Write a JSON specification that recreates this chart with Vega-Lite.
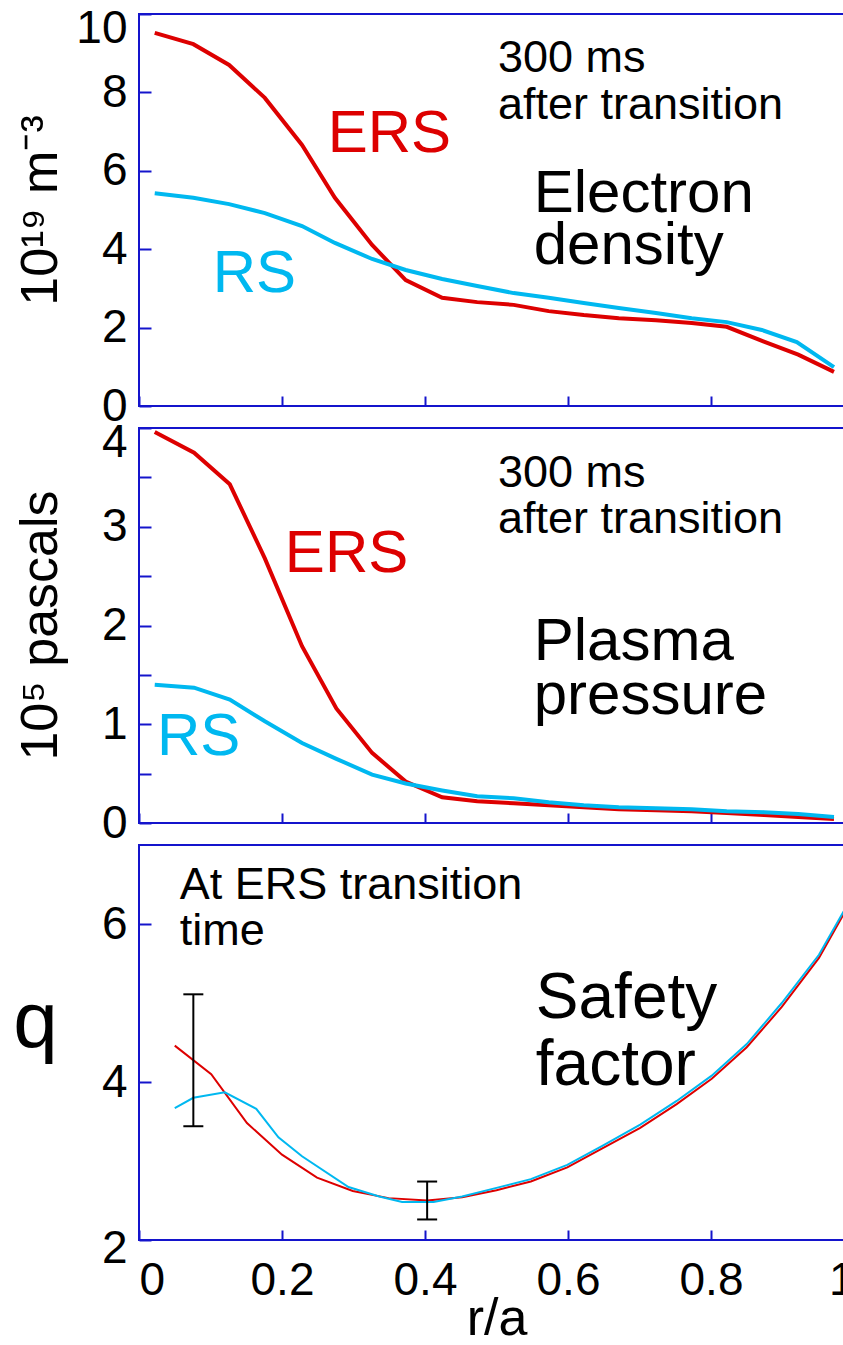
{
  "$schema": "https://vega.github.io/schema/vega-lite/v6.json",
  "background": "white",
  "padding": {"left": 11, "top": 4, "right": 0, "bottom": 0},
  "spacing": 22,
  "bounds": "flush",
  "config": {
    "font": "Liberation Sans",
    "view": {"stroke": "#1414cc", "strokeWidth": 2},
    "axis": {
      "domain": false, "grid": false, "tickColor": "#1414cc", "tickWidth": 2,
      "labelFont": "Liberation Sans", "labelColor": "black", "labelFontSize": 46,
      "titleFont": "Liberation Sans", "titleColor": "black", "titleFontWeight": "normal"
    }
  },
  "datasets": {
    "density": [
      {"r":0.022,"v":9.52,"s":"ERS"},{"r":0.076,"v":9.23,"s":"ERS"},{"r":0.126,"v":8.70,"s":"ERS"},{"r":0.176,"v":7.86,"s":"ERS"},{"r":0.228,"v":6.66,"s":"ERS"},{"r":0.274,"v":5.31,"s":"ERS"},{"r":0.326,"v":4.11,"s":"ERS"},{"r":0.373,"v":3.21,"s":"ERS"},{"r":0.424,"v":2.76,"s":"ERS"},{"r":0.473,"v":2.65,"s":"ERS"},{"r":0.524,"v":2.58,"s":"ERS"},{"r":0.573,"v":2.42,"s":"ERS"},{"r":0.622,"v":2.32,"s":"ERS"},{"r":0.671,"v":2.24,"s":"ERS"},{"r":0.723,"v":2.19,"s":"ERS"},{"r":0.773,"v":2.12,"s":"ERS"},{"r":0.822,"v":2.02,"s":"ERS"},{"r":0.874,"v":1.64,"s":"ERS"},{"r":0.922,"v":1.31,"s":"ERS"},{"r":0.972,"v":0.87,"s":"ERS"},
      {"r":0.022,"v":5.43,"s":"RS"},{"r":0.076,"v":5.31,"s":"RS"},{"r":0.126,"v":5.15,"s":"RS"},{"r":0.176,"v":4.92,"s":"RS"},{"r":0.228,"v":4.59,"s":"RS"},{"r":0.274,"v":4.16,"s":"RS"},{"r":0.326,"v":3.75,"s":"RS"},{"r":0.373,"v":3.47,"s":"RS"},{"r":0.424,"v":3.24,"s":"RS"},{"r":0.473,"v":3.06,"s":"RS"},{"r":0.524,"v":2.88,"s":"RS"},{"r":0.573,"v":2.76,"s":"RS"},{"r":0.622,"v":2.63,"s":"RS"},{"r":0.671,"v":2.50,"s":"RS"},{"r":0.723,"v":2.37,"s":"RS"},{"r":0.773,"v":2.24,"s":"RS"},{"r":0.822,"v":2.14,"s":"RS"},{"r":0.871,"v":1.94,"s":"RS"},{"r":0.920,"v":1.63,"s":"RS"},{"r":0.972,"v":0.99,"s":"RS"}
    ],
    "pressure": [
      {"r":0.022,"v":3.96,"s":"ERS"},{"r":0.077,"v":3.75,"s":"ERS"},{"r":0.127,"v":3.43,"s":"ERS"},{"r":0.176,"v":2.68,"s":"ERS"},{"r":0.228,"v":1.79,"s":"ERS"},{"r":0.276,"v":1.16,"s":"ERS"},{"r":0.326,"v":0.71,"s":"ERS"},{"r":0.373,"v":0.42,"s":"ERS"},{"r":0.424,"v":0.26,"s":"ERS"},{"r":0.473,"v":0.22,"s":"ERS"},{"r":0.524,"v":0.20,"s":"ERS"},{"r":0.573,"v":0.18,"s":"ERS"},{"r":0.622,"v":0.16,"s":"ERS"},{"r":0.671,"v":0.14,"s":"ERS"},{"r":0.723,"v":0.13,"s":"ERS"},{"r":0.773,"v":0.12,"s":"ERS"},{"r":0.822,"v":0.10,"s":"ERS"},{"r":0.874,"v":0.08,"s":"ERS"},{"r":0.922,"v":0.06,"s":"ERS"},{"r":0.972,"v":0.04,"s":"ERS"},
      {"r":0.022,"v":1.40,"s":"RS"},{"r":0.077,"v":1.37,"s":"RS"},{"r":0.127,"v":1.25,"s":"RS"},{"r":0.176,"v":1.03,"s":"RS"},{"r":0.228,"v":0.81,"s":"RS"},{"r":0.276,"v":0.65,"s":"RS"},{"r":0.326,"v":0.49,"s":"RS"},{"r":0.373,"v":0.40,"s":"RS"},{"r":0.424,"v":0.33,"s":"RS"},{"r":0.473,"v":0.27,"s":"RS"},{"r":0.524,"v":0.25,"s":"RS"},{"r":0.573,"v":0.21,"s":"RS"},{"r":0.622,"v":0.18,"s":"RS"},{"r":0.671,"v":0.16,"s":"RS"},{"r":0.723,"v":0.15,"s":"RS"},{"r":0.773,"v":0.14,"s":"RS"},{"r":0.822,"v":0.12,"s":"RS"},{"r":0.874,"v":0.11,"s":"RS"},{"r":0.922,"v":0.09,"s":"RS"},{"r":0.972,"v":0.06,"s":"RS"}
    ],
    "safety": [
      {"r":0.050,"v":4.46,"s":"ERS"},{"r":0.101,"v":4.10,"s":"ERS"},{"r":0.151,"v":3.48,"s":"ERS"},{"r":0.200,"v":3.08,"s":"ERS"},{"r":0.249,"v":2.79,"s":"ERS"},{"r":0.299,"v":2.62,"s":"ERS"},{"r":0.349,"v":2.53,"s":"ERS"},{"r":0.403,"v":2.50,"s":"ERS"},{"r":0.452,"v":2.54,"s":"ERS"},{"r":0.500,"v":2.63,"s":"ERS"},{"r":0.548,"v":2.74,"s":"ERS"},{"r":0.599,"v":2.92,"s":"ERS"},{"r":0.648,"v":3.16,"s":"ERS"},{"r":0.701,"v":3.42,"s":"ERS"},{"r":0.752,"v":3.72,"s":"ERS"},{"r":0.801,"v":4.04,"s":"ERS"},{"r":0.850,"v":4.44,"s":"ERS"},{"r":0.899,"v":4.95,"s":"ERS"},{"r":0.951,"v":5.57,"s":"ERS"},{"r":1.000,"v":6.36,"s":"ERS"},
      {"r":0.050,"v":3.67,"s":"RS"},{"r":0.076,"v":3.80,"s":"RS"},{"r":0.120,"v":3.87,"s":"RS"},{"r":0.164,"v":3.66,"s":"RS"},{"r":0.195,"v":3.30,"s":"RS"},{"r":0.228,"v":3.06,"s":"RS"},{"r":0.293,"v":2.67,"s":"RS"},{"r":0.336,"v":2.55,"s":"RS"},{"r":0.368,"v":2.48,"s":"RS"},{"r":0.412,"v":2.48,"s":"RS"},{"r":0.452,"v":2.55,"s":"RS"},{"r":0.500,"v":2.66,"s":"RS"},{"r":0.548,"v":2.77,"s":"RS"},{"r":0.599,"v":2.95,"s":"RS"},{"r":0.648,"v":3.19,"s":"RS"},{"r":0.701,"v":3.46,"s":"RS"},{"r":0.752,"v":3.76,"s":"RS"},{"r":0.801,"v":4.08,"s":"RS"},{"r":0.850,"v":4.48,"s":"RS"},{"r":0.899,"v":5.00,"s":"RS"},{"r":0.951,"v":5.61,"s":"RS"},{"r":1.000,"v":6.39,"s":"RS"}
    ],
    "errors": [
      {"r":0.076,"lo":3.44,"hi":5.11},
      {"r":0.403,"lo":2.26,"hi":2.74}
    ],
    "notes1": [
      {"t":"300 ms","x":0.502,"y":8.52,"kind":"small","s":"note"},
      {"t":"after transition","x":0.502,"y":7.32,"kind":"small","s":"note"},
      {"t":"ERS","x":0.264,"y":6.48,"kind":"big","s":"ERS"},
      {"t":"Electron","x":0.552,"y":4.95,"kind":"big","s":"note"},
      {"t":"density","x":0.552,"y":3.62,"kind":"big","s":"note"},
      {"t":"RS","x":0.103,"y":2.91,"kind":"big","s":"RS"}
    ],
    "notes2": [
      {"t":"300 ms","x":0.502,"y":3.40,"kind":"small","s":"note"},
      {"t":"after transition","x":0.502,"y":2.94,"kind":"small","s":"note"},
      {"t":"ERS","x":0.204,"y":2.54,"kind":"big","s":"ERS"},
      {"t":"Plasma","x":0.552,"y":1.65,"kind":"big","s":"note"},
      {"t":"pressure","x":0.552,"y":1.10,"kind":"big","s":"note"},
      {"t":"RS","x":0.025,"y":0.69,"kind":"big","s":"RS"}
    ],
    "notes3": [
      {"t":"At ERS transition","x":0.057,"y":6.32,"kind":"small","s":"note"},
      {"t":"time","x":0.057,"y":5.73,"kind":"small","s":"note"},
      {"t":"Safety","x":0.555,"y":4.81,"kind":"big","s":"note"},
      {"t":"factor","x":0.555,"y":3.96,"kind":"big","s":"note"}
    ]
  },
  "vconcat": [
    {
      "width": 715, "height": 392,
      "layer": [
        {
          "data": {"name": "density"},
          "mark": {"type": "line", "strokeWidth": 4, "clip": true},
          "encoding": {
            "x": {"field": "r", "type": "quantitative", "scale": {"domain": [0, 1]},
                  "axis": {"values": [0, 0.2, 0.4, 0.6, 0.8, 1], "labels": false, "tickSize": -10, "title": null}},
            "y": {"field": "v", "type": "quantitative", "scale": {"domain": [0, 10]},
                  "axis": {"values": [0, 2, 4, 6, 8, 10], "format": "d", "tickSize": -12, "labelPadding": 24,
                           "labelBaseline": {"condition": {"test": "datum.value == 10", "value": "top"}, "value": "middle"},
                           "labelOffset": {"condition": {"test": "datum.value == 10", "value": -8}, "value": 0},
                           "title": "10¹⁹ m⁻³", "titleFontSize": 52, "titleX": -99, "titleY": 196,
                           "titleAlign": "center", "titleBaseline": "middle"}},
            "color": {"field": "s", "type": "nominal",
                      "scale": {"domain": ["ERS", "RS", "note"], "range": ["#dd0000", "#00b8f0", "#000000"]}, "legend": null}
          }
        },
        {
          "data": {"name": "notes1"},
          "transform": [{"filter": "datum.kind == 'small'"}],
          "mark": {"type": "text", "align": "left", "baseline": "alphabetic", "fontSize": 45},
          "encoding": {"x": {"field": "x", "type": "quantitative"}, "y": {"field": "y", "type": "quantitative"},
                       "text": {"field": "t"}, "color": {"field": "s", "type": "nominal"}}
        },
        {
          "data": {"name": "notes1"},
          "transform": [{"filter": "datum.kind == 'big'"}],
          "mark": {"type": "text", "align": "left", "baseline": "alphabetic", "fontSize": 60},
          "encoding": {"x": {"field": "x", "type": "quantitative"}, "y": {"field": "y", "type": "quantitative"},
                       "text": {"field": "t"}, "color": {"field": "s", "type": "nominal"}}
        }
      ]
    },
    {
      "width": 715, "height": 395,
      "layer": [
        {
          "data": {"name": "pressure"},
          "mark": {"type": "line", "strokeWidth": 4, "clip": true},
          "encoding": {
            "x": {"field": "r", "type": "quantitative", "scale": {"domain": [0, 1]},
                  "axis": {"values": [0, 0.2, 0.4, 0.6, 0.8, 1], "labels": false, "tickSize": -10, "title": null}},
            "y": {"field": "v", "type": "quantitative", "scale": {"domain": [0, 4]},
                  "axis": {"values": [0, 0.5, 1, 1.5, 2, 2.5, 3, 3.5, 4], "format": "~g", "tickSize": -12, "labelPadding": 24,
                           "labelExpr": "datum.value % 1 == 0 ? datum.label : ''",
                           "labelBaseline": {"condition": {"test": "datum.value == 4", "value": "top"}, "value": "middle"},
                           "labelOffset": {"condition": {"test": "datum.value == 4", "value": -8}, "value": 0},
                           "title": "10⁵ pascals", "titleFontSize": 52, "titleX": -99, "titleY": 197,
                           "titleAlign": "center", "titleBaseline": "middle"}},
            "color": {"field": "s", "type": "nominal",
                      "scale": {"domain": ["ERS", "RS", "note"], "range": ["#dd0000", "#00b8f0", "#000000"]}, "legend": null}
          }
        },
        {
          "data": {"name": "notes2"},
          "transform": [{"filter": "datum.kind == 'small'"}],
          "mark": {"type": "text", "align": "left", "baseline": "alphabetic", "fontSize": 45},
          "encoding": {"x": {"field": "x", "type": "quantitative"}, "y": {"field": "y", "type": "quantitative"},
                       "text": {"field": "t"}, "color": {"field": "s", "type": "nominal"}}
        },
        {
          "data": {"name": "notes2"},
          "transform": [{"filter": "datum.kind == 'big'"}],
          "mark": {"type": "text", "align": "left", "baseline": "alphabetic", "fontSize": 60},
          "encoding": {"x": {"field": "x", "type": "quantitative"}, "y": {"field": "y", "type": "quantitative"},
                       "text": {"field": "t"}, "color": {"field": "s", "type": "nominal"}}
        }
      ]
    },
    {
      "width": 715, "height": 395,
      "layer": [
        {
          "data": {"name": "safety"},
          "mark": {"type": "line", "strokeWidth": 2, "clip": true},
          "encoding": {
            "x": {"field": "r", "type": "quantitative", "scale": {"domain": [0, 1]},
                  "axis": {"values": [0, 0.2, 0.4, 0.6, 0.8, 1], "format": "~g", "tickSize": -10, "labelPadding": 28,
                           "title": "r/a", "titleFontSize": 52, "titlePadding": -10}},
            "y": {"field": "v", "type": "quantitative", "scale": {"domain": [2, 7]},
                  "axis": {"values": [2, 4, 6], "format": "d", "tickSize": -12, "labelPadding": 24,
                           "labelOffset": {"condition": {"test": "datum.value == 2", "value": 8}, "value": 0},
                           "title": "q", "titleFontSize": 80, "titleAngle": 0, "titleX": -104, "titleY": 201,
                           "titleAlign": "center", "titleBaseline": "alphabetic"}},
            "color": {"field": "s", "type": "nominal",
                      "scale": {"domain": ["ERS", "RS", "note"], "range": ["#dd0000", "#00b8f0", "#000000"]}, "legend": null}
          }
        },
        {
          "data": {"name": "errors"},
          "mark": {"type": "rule", "color": "black", "strokeWidth": 2},
          "encoding": {"x": {"field": "r", "type": "quantitative"},
                       "y": {"field": "lo", "type": "quantitative", "title": "q"}, "y2": {"field": "hi"}}
        },
        {
          "data": {"name": "errors"},
          "mark": {"type": "tick", "color": "black", "orient": "horizontal", "size": 20, "thickness": 2, "opacity": 1},
          "encoding": {"x": {"field": "r", "type": "quantitative"},
                       "y": {"field": "lo", "type": "quantitative", "title": "q"}}
        },
        {
          "data": {"name": "errors"},
          "mark": {"type": "tick", "color": "black", "orient": "horizontal", "size": 20, "thickness": 2, "opacity": 1},
          "encoding": {"x": {"field": "r", "type": "quantitative"},
                       "y": {"field": "hi", "type": "quantitative", "title": "q"}}
        },
        {
          "data": {"name": "notes3"},
          "transform": [{"filter": "datum.kind == 'small'"}],
          "mark": {"type": "text", "align": "left", "baseline": "alphabetic", "fontSize": 45},
          "encoding": {"x": {"field": "x", "type": "quantitative"}, "y": {"field": "y", "type": "quantitative", "title": "q"},
                       "text": {"field": "t"}, "color": {"field": "s", "type": "nominal"}}
        },
        {
          "data": {"name": "notes3"},
          "transform": [{"filter": "datum.kind == 'big'"}],
          "mark": {"type": "text", "align": "left", "baseline": "alphabetic", "fontSize": 64},
          "encoding": {"x": {"field": "x", "type": "quantitative"}, "y": {"field": "y", "type": "quantitative", "title": "q"},
                       "text": {"field": "t"}, "color": {"field": "s", "type": "nominal"}}
        }
      ]
    }
  ]
}
